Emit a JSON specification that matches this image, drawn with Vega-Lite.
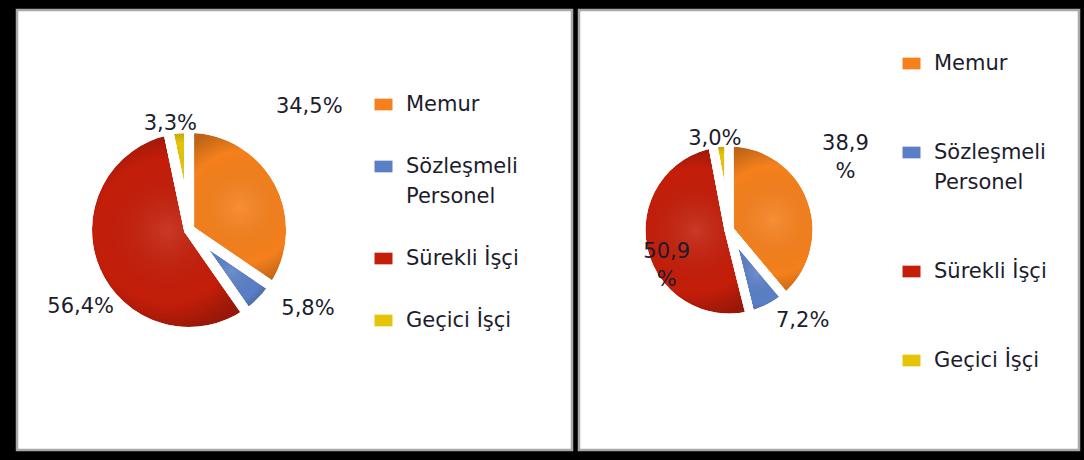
{
  "$schema": "https://vega.github.io/schema/vega-lite/v6.json",
  "background": "black",
  "padding": {"left": 15, "top": 8, "right": 5, "bottom": 12},
  "spacing": 3,
  "config": {
    "view": {"stroke": "#a8a8a8", "strokeWidth": 2.5, "fill": "white"},
    "font": "DejaVu Sans",
    "text": {"font": "DejaVu Sans", "fontSize": 21},
    "style": {"guide-label": {"lineHeight": 30}}
  },
  "resolve": {"scale": {"color": "independent", "theta": "independent", "x": "independent"}, "legend": {"color": "independent"}},
  "hconcat": [
    {
      "width": 555,
      "height": 440,
      "data": {"values": [
        {"kategori": "Memur", "sira": 1, "oran": 34.5, "etiket": "34,5%"},
        {"kategori": "Sözleşmeli Personel", "sira": 2, "oran": 5.8, "etiket": "5,8%"},
        {"kategori": "Sürekli İşçi", "sira": 3, "oran": 56.4, "etiket": "56,4%"},
        {"kategori": "Geçici İşçi", "sira": 4, "oran": 3.3, "etiket": "3,3%"}
      ]},
      "encoding": {
        "x": {"datum": 0.31, "type": "quantitative", "scale": {"domain": [0, 1]}, "axis": null},
        "theta": {"field": "oran", "type": "quantitative", "stack": true},
        "order": {"field": "sira", "type": "quantitative"}
      },
      "layer": [
        {
          "mark": {"type": "arc", "outerRadius": 102, "stroke": "white", "strokeWidth": 10, "strokeJoin": "round"},
          "encoding": {
            "color": {
              "field": "kategori", "type": "nominal",
              "scale": {"domain": ["Memur", "Sözleşmeli Personel", "Sürekli İşçi", "Geçici İşçi"], "range": ["#F5801C", "#5B7FC7", "#C41E0A", "#E6C40A"]},
              "legend": {
                "orient": "none", "legendX": 356, "legendY": 84, "title": null, "padding": 0,
                "labelFont": "DejaVu Sans", "labelFontSize": 21, "labelColor": "#1c1c2c", "labelLimit": 0,
                "labelOffset": 12, "rowPadding": 40,
                "symbolType": "M-1,-0.65H1V0.65H-1Z", "symbolSize": 324, "symbolStrokeWidth": 0, "symbolOpacity": 1,
                "labelExpr": "datum.label === 'Sözleşmeli Personel' ? ['Sözleşmeli', 'Personel'] : datum.label"
              }
            }
          }
        },
        {
          "mark": {"type": "arc", "outerRadius": 102, "stroke": "white", "strokeWidth": 10, "strokeJoin": "round",
            "fill": {"gradient": "radial", "stops": [{"offset": 0, "color": "rgba(255,255,255,0.12)"}, {"offset": 0.7, "color": "rgba(0,0,0,0)"}, {"offset": 1, "color": "rgba(0,0,0,0.22)"}]}}
        },
        {
          "mark": {"type": "text", "radius": 172, "thetaOffset": -0.31, "fill": "#1c1c2c"},
          "encoding": {"text": {"condition": {"test": "datum.kategori === 'Memur'", "field": "etiket", "type": "nominal"}, "value": ""}}
        },
        {
          "mark": {"type": "text", "radius": 143, "thetaOffset": -0.19, "fill": "#1c1c2c"},
          "encoding": {"text": {"condition": {"test": "datum.kategori === 'Sözleşmeli Personel'", "field": "etiket", "type": "nominal"}, "value": ""}}
        },
        {
          "mark": {"type": "text", "radius": 133, "thetaOffset": -0.21, "fill": "#1c1c2c"},
          "encoding": {"text": {"condition": {"test": "datum.kategori === 'Sürekli İşçi'", "field": "etiket", "type": "nominal"}, "value": ""}}
        },
        {
          "mark": {"type": "text", "radius": 108, "thetaOffset": -0.07, "fill": "#1c1c2c"},
          "encoding": {"text": {"condition": {"test": "datum.kategori === 'Geçici İşçi'", "field": "etiket", "type": "nominal"}, "value": ""}}
        }
      ]
    },
    {
      "width": 500,
      "height": 440,
      "data": {"values": [
        {"kategori": "Memur", "sira": 1, "oran": 38.9, "etiket": "38,9\n%"},
        {"kategori": "Sözleşmeli Personel", "sira": 2, "oran": 7.2, "etiket": "7,2%"},
        {"kategori": "Sürekli İşçi", "sira": 3, "oran": 50.9, "etiket": "50,9\n%"},
        {"kategori": "Geçici İşçi", "sira": 4, "oran": 3.0, "etiket": "3,0%"}
      ]},
      "encoding": {
        "x": {"datum": 0.3, "type": "quantitative", "scale": {"domain": [0, 1]}, "axis": null},
        "theta": {"field": "oran", "type": "quantitative", "stack": true},
        "order": {"field": "sira", "type": "quantitative"}
      },
      "layer": [
        {
          "mark": {"type": "arc", "outerRadius": 88, "stroke": "white", "strokeWidth": 9, "strokeJoin": "round"},
          "encoding": {
            "color": {
              "field": "kategori", "type": "nominal",
              "scale": {"domain": ["Memur", "Sözleşmeli Personel", "Sürekli İşçi", "Geçici İşçi"], "range": ["#F5801C", "#5B7FC7", "#C41E0A", "#E6C40A"]},
              "legend": {
                "orient": "none", "legendX": 322, "legendY": 43, "title": null, "padding": 0,
                "labelFont": "DejaVu Sans", "labelFontSize": 21, "labelColor": "#1c1c2c", "labelLimit": 0,
                "labelOffset": 12, "rowPadding": 67,
                "symbolType": "M-1,-0.65H1V0.65H-1Z", "symbolSize": 324, "symbolStrokeWidth": 0, "symbolOpacity": 1,
                "labelExpr": "datum.label === 'Sözleşmeli Personel' ? ['Sözleşmeli', 'Personel'] : datum.label"
              }
            }
          }
        },
        {
          "mark": {"type": "arc", "outerRadius": 88, "stroke": "white", "strokeWidth": 9, "strokeJoin": "round",
            "fill": {"gradient": "radial", "stops": [{"offset": 0, "color": "rgba(255,255,255,0.12)"}, {"offset": 0.7, "color": "rgba(0,0,0,0)"}, {"offset": 1, "color": "rgba(0,0,0,0.22)"}]}}
        },
        {
          "mark": {"type": "text", "radius": 145, "thetaOffset": -0.29, "lineBreak": "\n", "lineHeight": 28, "fill": "#1c1c2c"},
          "encoding": {"text": {"condition": {"test": "datum.kategori === 'Memur'", "field": "etiket", "type": "nominal"}, "value": ""}}
        },
        {
          "mark": {"type": "text", "radius": 117, "thetaOffset": -0.21, "fill": "#1c1c2c"},
          "encoding": {"text": {"condition": {"test": "datum.kategori === 'Sözleşmeli Personel'", "field": "etiket", "type": "nominal"}, "value": ""}}
        },
        {
          "mark": {"type": "text", "radius": 66, "thetaOffset": -0.12, "lineBreak": "\n", "lineHeight": 28, "fill": "#1c1c2c"},
          "encoding": {"text": {"condition": {"test": "datum.kategori === 'Sürekli İşçi'", "field": "etiket", "type": "nominal"}, "value": ""}}
        },
        {
          "mark": {"type": "text", "radius": 92, "thetaOffset": -0.06, "fill": "#1c1c2c"},
          "encoding": {"text": {"condition": {"test": "datum.kategori === 'Geçici İşçi'", "field": "etiket", "type": "nominal"}, "value": ""}}
        }
      ]
    }
  ]
}
